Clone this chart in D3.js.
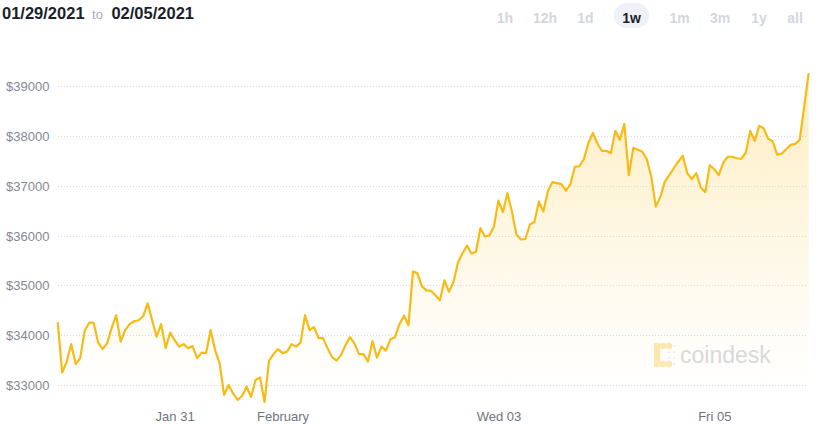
<!DOCTYPE html>
<html><head><meta charset="utf-8">
<script src="https://cdn.jsdelivr.net/npm/d3@7"></script>
<style>
html,body{margin:0;padding:0;background:#fff;}
svg{display:block;font-family:"Liberation Sans",Arial,sans-serif;}
</style></head>
<body>
<svg id="chart" width="820" height="426"></svg>
<script>
// ---- data (hourly BTC price) ----
const startTime = new Date(2021, 0, 29, 22);
const prices = [
 34260,33250,33470,33820,33420,33540,34090,34250,34250,33850,
 33720,33840,34140,34400,33870,34100,34220,34280,34300,34380,
 34640,34300,33970,34220,33740,34050,33900,33770,33820,33740,
 33780,33540,33650,33640,34100,33700,33440,32800,33000,32830,
 32700,32780,32970,32760,33100,33150,32660,33490,33620,33720,
 33640,33670,33820,33770,33850,34400,34100,34160,33940,33940,
 33740,33560,33490,33600,33800,33960,33830,33620,33620,33470,
 33880,33550,33770,33690,33920,33960,34220,34390,34200,35280,
 35240,34980,34900,34890,34800,34700,35100,34870,35060,35460,
 35640,35800,35640,35670,36150,35980,36000,36180,36700,36470,
 36850,36480,36020,35920,35930,36220,36270,36680,36480,36890,
 37070,37050,37030,36900,37030,37380,37390,37530,37850,38060,
 37850,37700,37700,37650,38100,37920,38240,37210,37760,37720,
 37680,37530,37180,36580,36770,37080,37210,37350,37480,37600,
 37250,37130,37250,36970,36870,37410,37330,37210,37460,37580,
 37580,37550,37540,37660,38100,37900,38200,38150,37940,37890,
 37620,37640,37730,37820,37840,37920,38590,39260
];
const yTicks = [33000, 34000, 35000, 36000, 37000, 38000, 39000];
const xTickDates = [new Date(2021,0,31), new Date(2021,1,1), new Date(2021,1,3), new Date(2021,1,5)];
const xTickLabels = ["Jan 31", "February", "Wed 03", "Fri 05"];
const rangeButtons = ["1h", "12h", "1d", "1w", "1m", "3m", "1y", "all"];
const selectedRange = "1w";
const fromLabel = "01/29/2021", toLabel = "02/05/2021";

const data = prices.map((v, i) => ({ t: new Date(+startTime + i * 3600e3), v }));

const svg = d3.select("#chart");
const x = d3.scaleTime()
  .domain([data[0].t, data[data.length - 1].t])
  .range([57.7, 808.7]);
const y = d3.scaleLinear().domain([33000, 39000]).range([385, 86]);

// header
const hdr = svg.append("text").attr("x", 2).attr("y", 19).attr("font-size", 16.5)
  .attr("font-weight", "bold").attr("fill", "#1b1e2b");
hdr.append("tspan").text(fromLabel);
hdr.append("tspan").attr("dx", 7.5).attr("font-size", 13).attr("font-weight", "normal")
  .attr("fill", "#a9acb9").text("to");
hdr.append("tspan").attr("dx", 8.5).text(toLabel);

// range buttons
const btnX = [505, 545, 585.5, 631.5, 679.5, 720, 759, 795];
const btns = svg.append("g");
rangeButtons.forEach((b, i) => {
  if (b === selectedRange) {
    btns.append("rect").attr("x", btnX[i] - 17.5).attr("y", 3).attr("width", 35).attr("height", 25)
      .attr("rx", 12.5).attr("fill", "#eef1f8");
  }
  btns.append("text").attr("x", btnX[i]).attr("y", 23).attr("text-anchor", "middle")
    .attr("font-size", 14).attr("font-weight", "bold")
    .attr("fill", b === selectedRange ? "#1b1e2b" : "#d3d6e1").text(b);
});

// grid
const grid = svg.append("g");
grid.selectAll("line").data(yTicks).join("line")
  .attr("x1", 58).attr("x2", 808)
  .attr("y1", d => Math.round(y(d)) + 0.5).attr("y2", d => Math.round(y(d)) + 0.5)
  .attr("stroke", "#d6d9f0").attr("stroke-width", 1).attr("stroke-dasharray", "1,2");

// y labels
svg.append("g").selectAll("text").data(yTicks).join("text")
  .attr("x", 6).attr("y", d => y(d) + 5)
  .attr("font-size", 13).attr("fill", "#858894")
  .text(d => "$" + d);

// x axis labels
const xAxis = d3.axisBottom(x).tickValues(xTickDates)
  .tickFormat((d, i) => xTickLabels[i]).tickSize(0).tickPadding(0);
const xg = svg.append("g").attr("transform", "translate(0,410)").call(xAxis);
xg.select(".domain").remove();
xg.selectAll("text").attr("font-size", 13).attr("fill", "#6f7380")
  .attr("font-family", "Liberation Sans, Arial, sans-serif").attr("dy", "0.85em");

// gradient
const defs = svg.append("defs");
const grad = defs.append("linearGradient").attr("id", "fillGrad")
  .attr("gradientUnits", "userSpaceOnUse").attr("x1", 0).attr("x2", 0).attr("y1", 73).attr("y2", 400);
grad.append("stop").attr("offset", 0).attr("stop-color", "#f8bb15").attr("stop-opacity", 0.26);
grad.append("stop").attr("offset", 0.85).attr("stop-color", "#f8bb15").attr("stop-opacity", 0.02);
grad.append("stop").attr("offset", 1).attr("stop-color", "#f8bb15").attr("stop-opacity", 0);

// watermark
const wm = svg.append("g");
const lc = "#fde8b4";
[[657,346],[663,346],[669,346],[657,352],[657,358],[657,364],[663,364],[669,364]].forEach(([cx,cy]) => {
  wm.append("circle").attr("cx", cx).attr("cy", cy).attr("r", 3.2).attr("fill", lc);
});
wm.append("rect").attr("x", 654).attr("y", 343).attr("width", 6).attr("height", 24).attr("rx", 2).attr("fill", lc);
[[669,352],[674,352],[669,358],[674,358],[674,346],[674,364]].forEach(([cx,cy]) => {
  wm.append("circle").attr("cx", cx).attr("cy", cy).attr("r", 1.1).attr("fill", "#eceef3");
});
wm.append("text").attr("x", 680).attr("y", 363).attr("font-size", 23)
  .attr("fill", "#d7d9e0").text("coindesk");

// area + line
svg.append("path").datum(data)
  .attr("d", d3.area().x(d => x(d.t)).y0(405).y1(d => y(d.v)))
  .attr("fill", "url(#fillGrad)");
svg.append("path").datum(data)
  .attr("d", d3.line().x(d => x(d.t)).y(d => y(d.v)))
  .attr("fill", "none").attr("stroke", "#f8bb15").attr("stroke-width", 2.2)
  .attr("stroke-linejoin", "round");
</script>
</body></html>
